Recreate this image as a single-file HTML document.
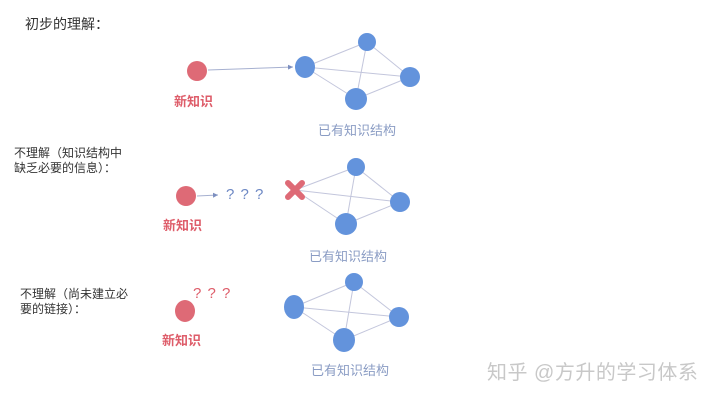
<!DOCTYPE html>
<html><head><meta charset="utf-8"><style>
body{margin:0;background:#fff;width:720px;height:401px;overflow:hidden}
text{font-family:"Liberation Sans","Noto Sans CJK SC",sans-serif}
</style></head><body>
<svg width="720" height="401" viewBox="0 0 720 401">
<defs><marker id="ar" markerWidth="6" markerHeight="6" refX="5" refY="3" orient="auto"><path d="M0,0.5 L5,3 L0,5.5z" fill="#7c8fc0"/></marker></defs>
<g stroke="#c3c6dc" stroke-width="1">
<line x1="305" y1="67" x2="367" y2="42"/><line x1="305" y1="67" x2="410" y2="77"/><line x1="305" y1="67" x2="356" y2="99"/><line x1="367" y1="42" x2="410" y2="77"/><line x1="367" y1="42" x2="356" y2="99"/><line x1="410" y1="77" x2="356" y2="99"/>
<line x1="295" y1="190" x2="356" y2="167"/><line x1="295" y1="190" x2="400" y2="202"/><line x1="295" y1="190" x2="346" y2="224"/><line x1="356" y1="167" x2="346" y2="224"/><line x1="356" y1="167" x2="400" y2="202"/><line x1="400" y1="202" x2="346" y2="224"/>
<line x1="294" y1="307" x2="354" y2="282"/><line x1="294" y1="307" x2="399" y2="317"/><line x1="294" y1="307" x2="344" y2="340"/><line x1="354" y1="282" x2="344" y2="340"/><line x1="354" y1="282" x2="399" y2="317"/><line x1="399" y1="317" x2="344" y2="340"/>
</g>
<line x1="208" y1="70" x2="293" y2="67" stroke="#a6b0d0" marker-end="url(#ar)"/>
<line x1="197" y1="196" x2="218" y2="195" stroke="#a6b0d0" marker-end="url(#ar)"/>
<g fill="#6393dc">
<ellipse cx="305" cy="67" rx="10" ry="11"/><circle cx="367" cy="42" r="9"/><circle cx="410" cy="77" r="10"/><circle cx="356" cy="99" r="11"/>
<circle cx="356" cy="167" r="9"/><circle cx="400" cy="202" r="10"/><circle cx="346" cy="224" r="11"/>
<ellipse cx="294" cy="307" rx="10" ry="12"/><circle cx="354" cy="282" r="9"/><circle cx="399" cy="317" r="10"/><ellipse cx="344" cy="340" rx="11" ry="12"/>
</g>
<g fill="#de6a76">
<circle cx="197" cy="71" r="10"/><circle cx="186" cy="196" r="10"/><ellipse cx="185" cy="311" rx="10" ry="11"/>
</g>
<g stroke="#de6a76" stroke-width="6" stroke-linecap="round"><line x1="288" y1="183" x2="302" y2="197"/><line x1="302" y1="183" x2="288" y2="197"/></g>
<text x="25" y="29" font-size="14" fill="#333">初步的理解：</text>
<text x="14" y="157" font-size="12" fill="#333">不理解（知识结构中</text>
<text x="14" y="172" font-size="12" fill="#333">缺乏必要的信息）：</text>
<text x="20" y="298" font-size="12" fill="#333">不理解（尚未建立必</text>
<text x="20" y="313" font-size="12" fill="#333">要的链接）：</text>
<g font-size="13" fill="#de5d6a" font-weight="bold">
<text x="174" y="106">新知识</text><text x="163" y="230">新知识</text><text x="162" y="345">新知识</text>
</g>
<g font-size="13" fill="#8a9cc4">
<text x="318" y="135">已有知识结构</text><text x="309" y="261">已有知识结构</text><text x="311" y="375">已有知识结构</text>
</g>
<text x="226" y="199" font-size="15" fill="#6d88c4" letter-spacing="1">? ? ?</text>
<text x="193" y="298" font-size="15" fill="#de5d6a" letter-spacing="1">? ? ?</text>
<text x="487" y="379" font-size="20" fill="#c8c8c8" letter-spacing="0.5">知乎 @方升的学习体系</text>
</svg>
</body></html>
